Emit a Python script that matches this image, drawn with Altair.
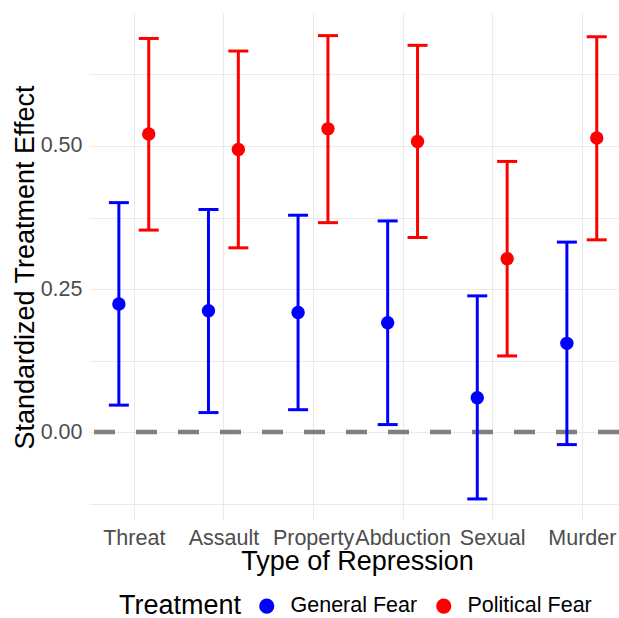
import altair as alt
import pandas as pd

categories = ["Threat", "Assault", "Property", "Abduction", "Sexual", "Murder"]
treatments = ["General Fear", "Political Fear"]
colors = ["#0000FF", "#FF0000"]

general_est = [0.224, 0.212, 0.209, 0.191, 0.060, 0.155]
general_lo = [0.047, 0.034, 0.039, 0.013, -0.117, -0.022]
general_hi = [0.401, 0.389, 0.379, 0.369, 0.238, 0.332]

political_est = [0.521, 0.494, 0.530, 0.508, 0.303, 0.514]
political_lo = [0.353, 0.322, 0.366, 0.340, 0.133, 0.336]
political_hi = [0.688, 0.666, 0.693, 0.676, 0.473, 0.691]

y_ticks = [-0.125, 0.0, 0.125, 0.25, 0.375, 0.5, 0.625]

DODGE = 0.1667
rows = []
for i, c in enumerate(categories):
    for t, est, lo, hi, off in [
        (treatments[0], general_est, general_lo, general_hi, -DODGE),
        (treatments[1], political_est, political_lo, political_hi, DODGE),
    ]:
        rows.append(dict(category=c, pos=i + 1 + off, treatment=t,
                         est=est[i], lo=lo[i], hi=hi[i]))
df = pd.DataFrame(rows)

FONT = "Liberation Sans"
label_list = "[" + ",".join("'%s'" % c for c in categories) + "]"

x_scale = alt.Scale(domain=[0.5, 6.415], nice=False, zero=False)
y_scale = alt.Scale(domain=[-0.1538, 0.7325], nice=False, zero=False)

x_axis = alt.Axis(
    values=list(range(1, len(categories) + 1)),
    labelExpr=label_list + "[round(datum.value) - 1]",
    title="Type of Repression",
    grid=True, gridColor="#EBEBEB", gridWidth=1.1,
    domain=False, ticks=False, tickSize=0,
    labelFont=FONT, labelFontSize=21.5, labelColor="#4D4D4D",
    labelBaseline="alphabetic", labelPadding=24,
    labelOverlap=False, labelFlush=False, labelBound=False,
    titleFont=FONT, titleFontSize=27, titleFontWeight="normal", titleColor="#000000",
    titleX=268, titleY=49, titleAlign="center", titleBaseline="alphabetic",
)
y_axis = alt.Axis(
    values=y_ticks,
    labelExpr="abs(datum.value*4 - round(datum.value*4)) < 0.001 ? format(datum.value, '.2f') : ''",
    title="Standardized Treatment Effect",
    grid=True, gridColor="#EBEBEB", gridWidth=1.1,
    domain=False, ticks=False, tickSize=0,
    labelFont=FONT, labelFontSize=21.5, labelColor="#4D4D4D",
    labelPadding=7, labelBaseline="middle",
    titleFont=FONT, titleFontSize=27, titleFontWeight="normal", titleColor="#000000",
    titleAngle=270, titleX=-56, titleY=254, titleAlign="center", titleBaseline="alphabetic",
)

color_scale = alt.Scale(domain=treatments, range=colors)
legend = alt.Legend(
    title="Treatment", orient="none", legendX=30, legendY=582,
    direction="horizontal", titleOrient="left",
    titleFont=FONT, titleFontSize=27, titleFontWeight="normal",
    titleColor="#000000", titlePadding=14,
    labelFont=FONT, labelFontSize=21.5, labelColor="#000000",
    labelOffset=13, columnPadding=15,
    symbolType="circle", symbolSize=230, symbolStrokeWidth=0,
    symbolOpacity=1,
)
C = alt.Color("treatment:N", scale=color_scale, legend=legend)
X = alt.X("pos:Q", scale=x_scale, axis=x_axis)

zero_line = alt.Chart(pd.DataFrame({"zero": [0.0]})).mark_rule(
    color="#7F7F7F", strokeWidth=4.3, strokeDash=[21, 21]
).encode(y=alt.Y("zero:Q", scale=y_scale, axis=y_axis))

base = alt.Chart(df)

bars = base.mark_rule(strokeWidth=3).encode(
    x=X,
    y=alt.Y("lo:Q", scale=y_scale, axis=y_axis),
    y2="hi:Q",
    color=C,
)
caps_lo = base.mark_tick(orient="horizontal", size=20, thickness=3, opacity=1).encode(
    x=X,
    y=alt.Y("lo:Q", scale=y_scale, axis=y_axis),
    color=C,
)
caps_hi = base.mark_tick(orient="horizontal", size=20, thickness=3, opacity=1).encode(
    x=X,
    y=alt.Y("hi:Q", scale=y_scale, axis=y_axis),
    color=C,
)
points = base.mark_circle(size=180, opacity=1).encode(
    x=X,
    y=alt.Y("est:Q", scale=y_scale, axis=y_axis),
    color=C,
)

chart = alt.layer(zero_line, bars, caps_lo, caps_hi, points).properties(
    width=530, height=507,
    autosize=alt.AutoSizeParams(type="none"),
    padding={"left": 89, "top": 13, "right": 0, "bottom": 98},
    background="#FFFFFF",
).configure_view(stroke=None)

chart.save("out.html", embed_options={"renderer": "svg", "actions": False})
